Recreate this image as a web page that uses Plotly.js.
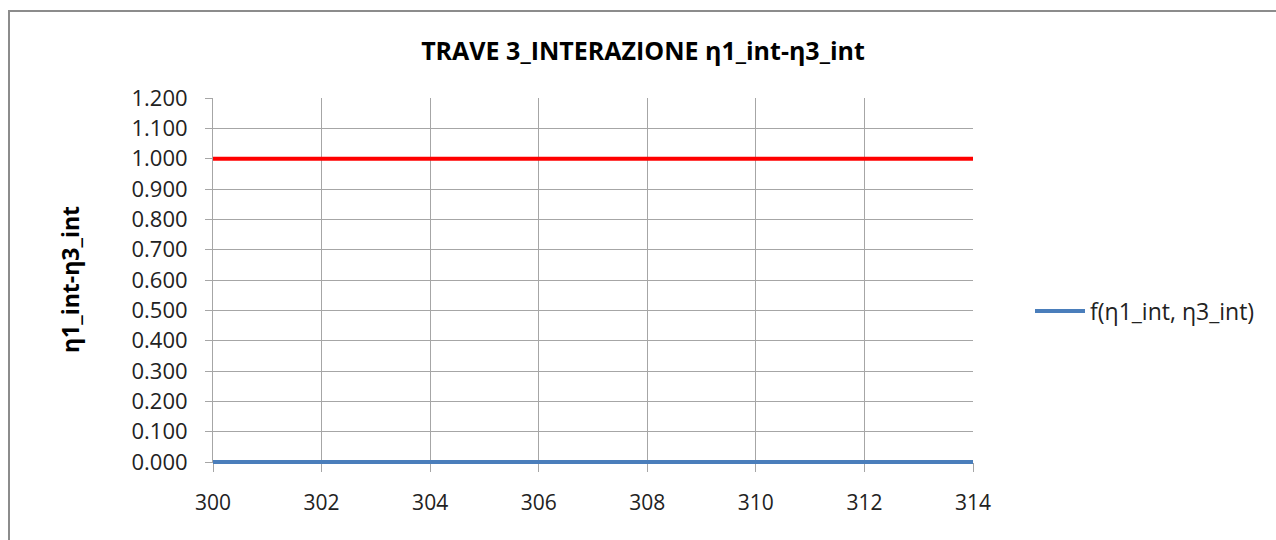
<!DOCTYPE html>
<html>
<head>
<meta charset="utf-8">
<script src="https://cdn.plot.ly/plotly-3.0.1.min.js"></script>
<style>
html,body{margin:0;padding:0;background:#fff;overflow:hidden;}
#wrap{position:relative;width:1276px;height:540px;}
#chart{width:1276px;height:540px;}
#frame{position:absolute;left:8px;top:10px;width:1400px;height:700px;border:2px solid #8c8c8c;pointer-events:none;box-sizing:border-box;}
</style>
</head>
<body>
<div id="wrap"><div id="chart"></div><div id="frame"></div></div>
<script>
const xValues = [300, 302, 304, 306, 308, 310, 312, 314];
const fValues = [0, 0, 0, 0, 0, 0, 0, 0];
const limitValues = [1, 1, 1, 1, 1, 1, 1, 1];
const xTicks = [300, 302, 304, 306, 308, 310, 312, 314];
const yTicks = [0, 0.1, 0.2, 0.3, 0.4, 0.5, 0.6, 0.7, 0.8, 0.9, 1.0, 1.1, 1.2];
const yTickText = ["0.000","0.100","0.200","0.300","0.400","0.500","0.600","0.700","0.800","0.900","1.000","1.100","1.200"];
const seriesName = "f(η1_int, η3_int)";
const chartTitle = "TRAVE 3_INTERAZIONE η1_int-η3_int";
const yTitle = "η1_int-η3_int";

const FONT = "Open Sans, Noto Sans, sans-serif";
const W = 1276, H = 540;
const L = 213, R = 973, T = 98, B = 462;

const traces = [
  {x: xValues, y: limitValues, type: 'scatter', mode: 'lines', showlegend: false,
   line: {color: '#FF0000', width: 4}, hoverinfo: 'skip'},
  {x: xValues, y: fValues, type: 'scatter', mode: 'lines', name: seriesName,
   line: {color: '#4A7EBB', width: 4}, cliponaxis: false}
];

const layout = {
  width: W, height: H,
  margin: {l: L, r: W - R, t: T, b: H - B, pad: 0},
  paper_bgcolor: '#ffffff', plot_bgcolor: '#ffffff',
  font: {family: FONT, color: '#222222', size: 21},
  title: {text: chartTitle, x: 643 / W, xanchor: 'center', xref: 'container',
          y: 1 - 51 / H, yanchor: 'middle', yref: 'container',
          font: {family: FONT, size: 25, color: '#000000', weight: 'bold'}},
  xaxis: {range: [300, 314], tickvals: xTicks, ticktext: xTicks.map(String),
          showgrid: true, gridcolor: '#a6a6a6', gridwidth: 1,
          showline: true, linecolor: '#a6a6a6', linewidth: 1, layer: 'below traces',
          ticks: 'outside', ticklen: 9, tickcolor: '#a6a6a6',
          ticklabelstandoff: 13, zeroline: false, fixedrange: true,
          tickfont: {family: FONT, size: 21, color: '#222222'}},
  yaxis: {range: [0, 1.2], tickvals: yTicks, ticktext: yTickText,
          showgrid: true, gridcolor: '#a6a6a6', gridwidth: 1,
          showline: true, linecolor: '#a6a6a6', linewidth: 1, layer: 'below traces',
          ticks: 'outside', ticklen: 7, tickcolor: '#a6a6a6',
          ticklabelstandoff: 13, zeroline: false, fixedrange: true,
          tickfont: {family: FONT, size: 22, color: '#222222'}},
  showlegend: true,
  legend: {x: (1030 - L) / (R - L), xanchor: 'left', y: (B - 311) / (B - T), yanchor: 'middle',
           bgcolor: 'rgba(0,0,0,0)', font: {family: FONT, size: 23, color: '#222222'},
           itemwidth: 50, tracegroupgap: 0},
  annotations: [{text: yTitle, xref: 'paper', yref: 'paper',
                 x: (70 - L) / (R - L), y: 0.5, xanchor: 'center', yanchor: 'middle',
                 textangle: -90, showarrow: false,
                 font: {family: FONT, size: 23, color: '#000000', weight: 'bold'}}]
};

Plotly.newPlot('chart', traces, layout, {displayModeBar: false, staticPlot: true}).then(function (gd) {
  // let the data lines along the plot edges draw at full width (as in the original)
  gd.querySelectorAll('.cartesianlayer [clip-path]').forEach(function (el) {
    el.removeAttribute('clip-path');
  });
});
</script>
</body>
</html>
